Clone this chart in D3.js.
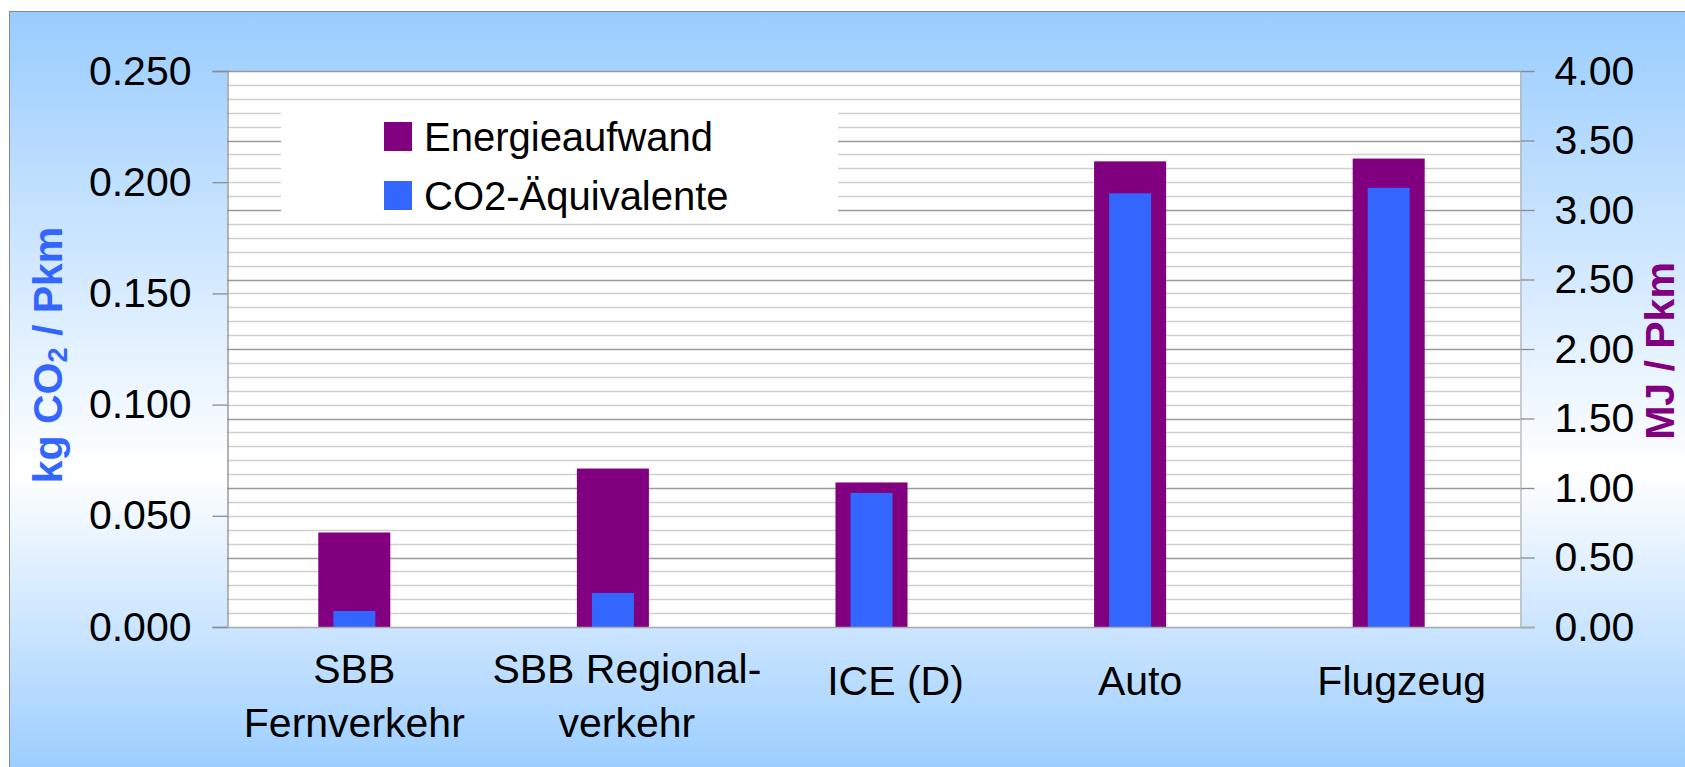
<!DOCTYPE html>
<html>
<head>
<meta charset="utf-8">
<script src="https://cdn.jsdelivr.net/npm/d3@7"></script>
<style>
  html, body { margin: 0; padding: 0; background: #ffffff; }
  svg { display: block; }
  text { font-family: "Liberation Sans", Arial, sans-serif; }
</style>
</head>
<body>
<svg id="chart" width="1685" height="767"></svg>
<script>
// ---- data ----
const categories = ["SBB Fernverkehr", "SBB Regionalverkehr", "ICE (D)", "Auto", "Flugzeug"];
const categoryLines = [["SBB", "Fernverkehr"], ["SBB Regional-", "verkehr"], ["ICE (D)"], ["Auto"], ["Flugzeug"]];
const energyMJ = [0.68, 1.14, 1.04, 3.35, 3.37];          // Energieaufwand, right axis
const co2kg = [0.0072, 0.0153, 0.0603, 0.195, 0.1975];    // CO2-Äquivalente, left axis
const leftTicks = [0, 0.05, 0.10, 0.15, 0.20, 0.25];
const rightTicks = [0, 0.5, 1.0, 1.5, 2.0, 2.5, 3.0, 3.5, 4.0];
const seriesNames = ["Energieaufwand", "CO2-Äquivalente"];
const colors = { energy: "#800080", co2: "#3366FF" };

// ---- layout ----
const W = 1685, H = 767;
const plot = { left: 227, right: 1520, top: 71, bottom: 627 };
const labelShift = [0, 14, 24, 10, 13]; // label offsets seen in the original rendering
const svg = d3.select("#chart");

const defs = svg.append("defs");
const grad = defs.append("linearGradient").attr("id", "bg")
  .attr("x1", 0).attr("y1", 0).attr("x2", 0).attr("y2", 1);
grad.append("stop").attr("offset", "0%").attr("stop-color", "#99CCFF");
grad.append("stop").attr("offset", "60%").attr("stop-color", "#FFFFFF");
grad.append("stop").attr("offset", "100%").attr("stop-color", "#99CCFF");

svg.append("rect").attr("x", 9.5).attr("y", 11.5).attr("width", W).attr("height", H)
  .attr("fill", "url(#bg)").attr("stroke", "#888888").attr("stroke-width", 1);

// scales
const x = d3.scaleBand().domain(categories).range([plot.left, plot.right]).padding(0);
const yL = d3.scaleLinear().domain([0, 0.25]).range([plot.bottom, plot.top]);
const yR = d3.scaleLinear().domain([0, 4]).range([plot.bottom, plot.top]);

// plot area
svg.append("rect").attr("x", plot.left).attr("y", plot.top)
  .attr("width", plot.right - plot.left).attr("height", plot.bottom - plot.top)
  .attr("fill", "#ffffff");

// gridlines (every 0.1 MJ, darker each 0.5 MJ)
const gridVals = d3.range(1, 40).map(i => i / 10);
svg.append("g").selectAll("line").data(gridVals).join("line")
  .attr("x1", plot.left).attr("x2", plot.right)
  .attr("y1", d => Math.round(yR(d)) + 0.5).attr("y2", d => Math.round(yR(d)) + 0.5)
  .attr("stroke", d => (Math.round(d * 10) % 5 === 0) ? "#9a9a9a" : "#cfcfcf")
  .attr("stroke-width", 1.3);

// plot border top
svg.append("line").attr("x1", plot.left).attr("x2", plot.right)
  .attr("y1", plot.top + 0.5).attr("y2", plot.top + 0.5).attr("stroke", "#999999").attr("stroke-width", 1.3);

// legend box (white, covers gridlines)
const legend = svg.append("g");
legend.append("rect").attr("x", 281).attr("y", 105).attr("width", 557).attr("height", 113).attr("fill", "#ffffff");
const legItems = [
  { name: seriesNames[0], color: colors.energy, y: 136.5 },
  { name: seriesNames[1], color: colors.co2, y: 195.5 }
];
legend.selectAll("rect.sw").data(legItems).join("rect").attr("class", "sw")
  .attr("x", 384).attr("y", d => d.y - 14.5).attr("width", 28).attr("height", 29)
  .attr("fill", d => d.color);
legend.selectAll("text").data(legItems).join("text")
  .attr("x", 424).attr("y", d => d.y + 14.5)
  .attr("font-size", 40).attr("fill", "#000")
  .text(d => d.name);

// bars
const wE = 72, wC = 42;
svg.append("g").selectAll("rect").data(categories).join("rect")
  .attr("x", (d) => x(d) + x.bandwidth() / 2 - wE / 2 - 2)
  .attr("width", wE)
  .attr("y", (d, i) => yR(energyMJ[i]))
  .attr("height", (d, i) => plot.bottom - yR(energyMJ[i]))
  .attr("fill", colors.energy);
svg.append("g").selectAll("rect").data(categories).join("rect")
  .attr("x", (d) => x(d) + x.bandwidth() / 2 - wC / 2 - 2)
  .attr("width", wC)
  .attr("y", (d, i) => yL(co2kg[i]))
  .attr("height", (d, i) => plot.bottom - yL(co2kg[i]))
  .attr("fill", colors.co2);

// axes
const leftAxis = d3.axisLeft(yL).tickValues(leftTicks).tickFormat(d3.format(".3f")).tickSize(15).tickPadding(21);
const gL = svg.append("g").attr("transform", `translate(${plot.left + 0.5},0)`).call(leftAxis);
gL.select(".domain").attr("stroke", "#8c8c8c").attr("stroke-width", 1.3);
gL.selectAll(".tick line").attr("stroke", "#8c8c8c").attr("stroke-width", 1.3);
gL.selectAll(".tick text").attr("font-size", 41).attr("fill", "#000")
  .attr("font-family", "'Liberation Sans', Arial, sans-serif");

const rightAxis = d3.axisRight(yR).tickValues(rightTicks).tickFormat(d3.format(".2f")).tickSize(14).tickPadding(20);
const gR = svg.append("g").attr("transform", `translate(${plot.right + 0.5},0)`).call(rightAxis);
gR.select(".domain").attr("stroke", "#b5b5b5").attr("stroke-width", 1.3);
gR.selectAll(".tick line").attr("stroke", "#8c8c8c").attr("stroke-width", 1.3);
gR.selectAll(".tick text").attr("font-size", 41).attr("fill", "#000")
  .attr("font-family", "'Liberation Sans', Arial, sans-serif");

// bottom axis line
svg.append("line").attr("x1", plot.left).attr("x2", plot.right + 14)
  .attr("y1", plot.bottom + 0.5).attr("y2", plot.bottom + 0.5)
  .attr("stroke", "#aaaaaa").attr("stroke-width", 1.5);

// category labels
const catG = svg.append("g");
categories.forEach((c, i) => {
  const lines = categoryLines[i];
  const cx = x(c) + x.bandwidth() / 2 - 2 + labelShift[i];
  const t = catG.append("text").attr("x", cx).attr("text-anchor", "middle")
    .attr("font-size", 41).attr("fill", "#000");
  if (lines.length === 2) {
    t.append("tspan").attr("x", cx).attr("y", 683).text(lines[0]);
    t.append("tspan").attr("x", cx).attr("y", 737).text(lines[1]);
  } else {
    t.attr("y", 695).text(lines[0]);
  }
});

// axis titles
const lt = svg.append("text").attr("transform", "translate(62,355) rotate(-90)")
  .attr("text-anchor", "middle").attr("font-size", 41).attr("font-weight", "bold")
  .attr("fill", colors.co2);
lt.append("tspan").text("kg CO");
lt.append("tspan").attr("font-size", 27).attr("dy", 5).text("2");
lt.append("tspan").attr("dy", -5).text(" / Pkm");

svg.append("text").attr("transform", "translate(1674,351) rotate(-90)")
  .attr("text-anchor", "middle").attr("font-size", 41).attr("font-weight", "bold")
  .attr("fill", colors.energy).text("MJ / Pkm");
</script>
</body>
</html>
